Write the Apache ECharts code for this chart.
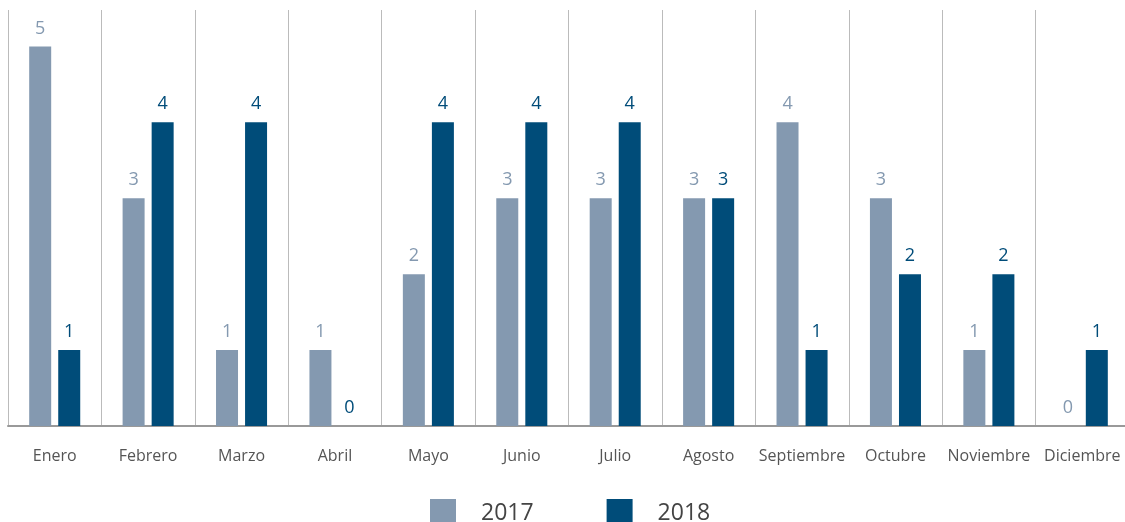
<!DOCTYPE html>
<html>
<head>
<meta charset="utf-8">
<script src="https://cdn.jsdelivr.net/npm/echarts@6/dist/echarts.min.js"></script>
<style>
  html, body { margin: 0; padding: 0; background: #fff; overflow: hidden; }
  #chart { width: 1130px; height: 522px; }
</style>
</head>
<body>
<div id="chart"></div>
<script>
const months = ['Enero', 'Febrero', 'Marzo', 'Abril', 'Mayo', 'Junio', 'Julio', 'Agosto', 'Septiembre', 'Octubre', 'Noviembre', 'Diciembre'];
const values2017 = [5, 3, 1, 1, 2, 3, 3, 3, 4, 3, 1, 0];
const values2018 = [1, 4, 4, 0, 4, 4, 4, 3, 1, 2, 2, 1];
const seriesNames = ['2017', '2018'];
const colors = ['#8499b0', '#004c79'];

const chart = echarts.init(document.getElementById('chart'));
const font = '"Source Sans Pro", "Open Sans", "Noto Sans", sans-serif';

function bar(name, data, color) {
    return {
        name: name,
        type: 'bar',
        data: data,
        barWidth: 22,
        barGap: '32%',
        itemStyle: { color: color },
        label: {
            show: true,
            position: 'top',
            distance: 9,
            color: color,
            fontSize: 18,
            fontFamily: font
        }
    };
}

chart.setOption({
    animation: false,
    textStyle: { fontFamily: font },
    grid: { left: 8, right: 1, top: 10, bottom: 96 },
    legend: {
        data: seriesNames,
        top: 494,
        left: 425,
        padding: 5,
        itemWidth: 26,
        itemHeight: 28,
        itemGap: 73,
        icon: 'rect',
        textStyle: { fontSize: 23, color: '#444', fontFamily: font, padding: [0, 0, 0, 20] }
    },
    xAxis: {
        type: 'category',
        data: months,
        axisLine: { lineStyle: { color: '#999', width: 2 } },
        axisTick: { show: false },
        splitLine: { show: true, lineStyle: { color: '#bbb', width: 1 } },
        axisLabel: { color: '#555', fontSize: 16, margin: 22, fontFamily: font, interval: 0 }
    },
    yAxis: {
        type: 'value',
        min: 0,
        max: 5.48,
        show: false,
        splitLine: { show: false }
    },
    series: [
        bar(seriesNames[0], values2017, colors[0]),
        bar(seriesNames[1], values2018, colors[1])
    ]
});
</script>
</body>
</html>
